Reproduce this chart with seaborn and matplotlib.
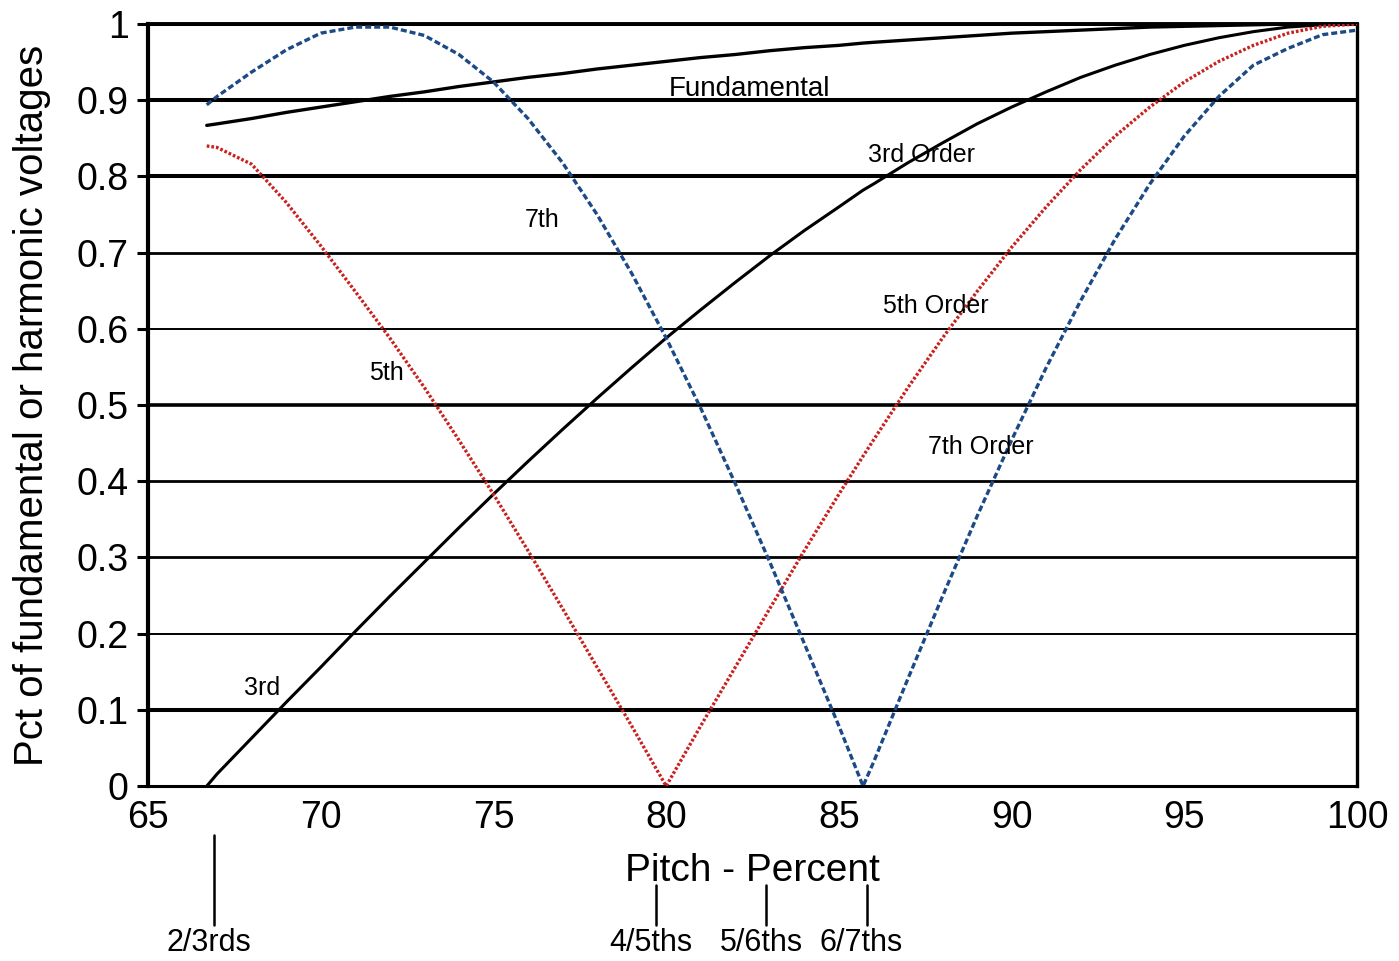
import pandas as pd
import matplotlib.pyplot as plt
import matplotlib.transforms as mtransforms
import seaborn as sns

sns.set_theme(style="white")
plt.rcParams['font.family'] = ['Liberation Sans', 'DejaVu Sans']
plt.rcParams['text.color'] = 'black'
plt.rcParams['axes.labelcolor'] = 'black'
plt.rcParams['xtick.color'] = 'black'
plt.rcParams['ytick.color'] = 'black'

# pitch in percent of full pitch
pitch = [66.7, 67, 68, 69, 70, 71, 72, 73, 74, 75, 76, 77, 78, 79, 80, 81, 82, 83,
         84, 85, 85.7, 86, 87, 88, 89, 90, 91, 92, 93, 94, 95, 96, 97, 98, 99, 100]

fundamental = [0.867, 0.869, 0.876, 0.884, 0.891, 0.898, 0.905, 0.911, 0.918, 0.924,
               0.930, 0.935, 0.941, 0.946, 0.951, 0.956, 0.960, 0.965, 0.969, 0.972,
               0.975, 0.976, 0.979, 0.982, 0.985, 0.988, 0.990, 0.992, 0.994, 0.996,
               0.997, 0.998, 0.999, 1.0, 1.0, 1.0]

third = [0.0, 0.016, 0.063, 0.110, 0.156, 0.203, 0.249, 0.294, 0.339, 0.383,
         0.426, 0.468, 0.509, 0.549, 0.588, 0.625, 0.661, 0.696, 0.729, 0.760,
         0.782, 0.790, 0.818, 0.844, 0.869, 0.891, 0.911, 0.930, 0.946, 0.960,
         0.972, 0.982, 0.990, 0.996, 0.999, 1.0]

fifth = [0.840, 0.838, 0.816, 0.766, 0.709, 0.649, 0.588, 0.523, 0.454, 0.383,
         0.309, 0.233, 0.156, 0.079, 0.0, 0.079, 0.156, 0.233, 0.309, 0.383,
         0.433, 0.454, 0.523, 0.588, 0.649, 0.707, 0.760, 0.809, 0.853, 0.891,
         0.924, 0.951, 0.972, 0.988, 0.997, 1.0]

seventh = [0.894, 0.905, 0.937, 0.966, 0.988, 0.996, 0.996, 0.985, 0.960, 0.924,
           0.876, 0.818, 0.750, 0.673, 0.588, 0.496, 0.397, 0.294, 0.187, 0.079,
           0.0, 0.031, 0.141, 0.249, 0.354, 0.454, 0.549, 0.637, 0.718, 0.790,
           0.853, 0.905, 0.946, 0.968, 0.986, 0.992]

y_ticks = [0, 0.1, 0.2, 0.3, 0.4, 0.5, 0.6, 0.7, 0.8, 0.9, 1.0]
y_tick_labels = ["0", "0.1", "0.2", "0.3", "0.4", "0.5", "0.6", "0.7", "0.8", "0.9", "1"]
x_ticks = [65, 70, 75, 80, 85, 90, 95, 100]

# pitch fraction markers as drawn under the axis
frac_pos = [66.9, 79.7, 82.9, 85.8]
frac_labels = ["2/3rds", "4/5ths", "5/6ths", "6/7ths"]

df = pd.DataFrame({"pitch": pitch, "fundamental": fundamental, "third": third,
                   "fifth": fifth, "seventh": seventh})

fig, ax = plt.subplots(figsize=(13.99, 9.61), dpi=100)
fig.subplots_adjust(left=0.1058, right=0.970, bottom=0.182, top=0.975)

# horizontal grid lines of uneven weight
grid_widths = [2.0, 2.9, 1.4, 2.0, 2.0, 2.6, 1.4, 2.0, 2.9, 2.9, 2.9]
for y, w in zip(y_ticks, grid_widths):
    ax.axhline(y, color="black", lw=w, zorder=1)

sns.lineplot(data=df, x="pitch", y="fundamental", color="black", lw=2.4, ax=ax, zorder=3)
sns.lineplot(data=df, x="pitch", y="third", color="black", lw=2.2, ax=ax, zorder=3)
sns.lineplot(data=df, x="pitch", y="fifth", color="#c8211f", lw=2.4,
             linestyle=(0, (0.8, 0.6)), ax=ax, zorder=3)
sns.lineplot(data=df, x="pitch", y="seventh", color="#1b4a86", lw=2.4,
             linestyle=(0, (1.8, 0.9)), ax=ax, zorder=3)

ax.set_xlim(65, 100)
ax.set_ylim(0, 1)
ax.set_xticks(x_ticks)
ax.set_xticklabels([str(t) for t in x_ticks], fontsize=27)
ax.set_yticks(y_ticks)
ax.set_yticklabels(y_tick_labels, fontsize=27)
ax.tick_params(axis="y", length=8, width=2.2, color="black", direction="out", pad=6, left=True)
ax.tick_params(axis="x", length=0, pad=10)

for side in ["left", "right", "bottom", "top"]:
    ax.spines[side].set_color("black")
ax.spines["left"].set_linewidth(3)
ax.spines["right"].set_linewidth(2.4)
ax.spines["bottom"].set_linewidth(2.2)
ax.spines["top"].set_linewidth(2.8)

ax.set_xlabel("Pitch - Percent", fontsize=28, labelpad=12)
ax.set_ylabel("Pct of fundamental or harmonic voltages", fontsize=29)
ax.yaxis.set_label_coords(-0.080, 0.5)

# curve labels
ax.text(82.4, 0.915, "Fundamental", fontsize=20, ha="center", va="center")
ax.text(87.4, 0.828, "3rd Order", fontsize=18, ha="center", va="center")
ax.text(76.4, 0.743, "7th", fontsize=18, ha="center", va="center")
ax.text(87.8, 0.630, "5th Order", fontsize=18, ha="center", va="center")
ax.text(71.9, 0.542, "5th", fontsize=18, ha="center", va="center")
ax.text(89.1, 0.445, "7th Order", fontsize=18, ha="center", va="center")
ax.text(68.3, 0.129, "3rd", fontsize=18, ha="center", va="center")

trans = mtransforms.blended_transform_factory(ax.transData, ax.transAxes)
for i, (pos, lab) in enumerate(zip(frac_pos, frac_labels)):
    top = -0.064 if i == 0 else -0.130
    ax.plot([pos, pos], [top, -0.182], color="black", lw=1.8, transform=trans, clip_on=False)
    ax.text(pos - 0.15, -0.186, lab, fontsize=22, ha="center", va="top", transform=trans)

fig.savefig("out.png", dpi=100)
plt.close(fig)
